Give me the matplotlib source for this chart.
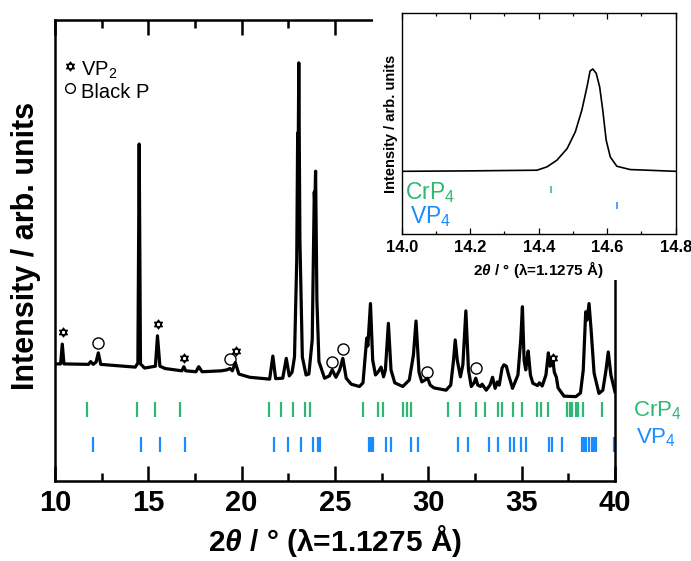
import matplotlib
matplotlib.use("Agg")
import matplotlib.pyplot as plt
from matplotlib.patches import Rectangle
from matplotlib.path import Path
from matplotlib.ticker import MultipleLocator, FormatStrFormatter

plt.rcParams['font.family'] = ['Liberation Sans', 'DejaVu Sans']
plt.rcParams['mathtext.fontset'] = 'custom'
plt.rcParams['mathtext.rm'] = 'Liberation Sans'
plt.rcParams['mathtext.it'] = 'Liberation Sans:italic:bold'
plt.rcParams['mathtext.bf'] = 'Liberation Sans:bold'

# ---- measured powder pattern (2theta in degrees, intensity in arb. units) ----
two_theta = [10.00, 10.30, 10.39, 10.48, 11.80, 11.91, 12.05, 12.20, 12.32, 12.45,
             14.30, 14.44, 14.51, 14.58, 14.80, 15.38, 15.49, 15.62, 15.90, 16.80,
             16.90, 17.00, 17.55, 17.70, 17.88, 18.90, 19.20, 19.37, 19.50, 19.66,
             19.85, 20.43, 21.50, 21.67, 21.82, 22.20, 22.39, 22.55, 22.70, 22.83,
             22.95, 23.00, 23.03, 23.06, 23.12, 23.25, 23.45, 23.60, 23.78, 23.89,
             23.92, 23.96, 24.03, 24.14, 24.44, 24.70, 24.85, 25.05, 25.25, 25.42,
             25.60, 25.87, 26.31, 26.50, 26.70, 26.76, 26.90, 27.02, 27.17, 27.30,
             27.47, 27.60, 27.70, 27.86, 28.00, 28.20, 28.63, 28.98, 29.20, 29.34,
             29.50, 29.65, 29.82, 29.96, 30.10, 30.30, 30.95, 31.20, 31.35, 31.44,
             31.55, 31.72, 31.85, 32.01, 32.15, 32.30, 32.45, 32.54, 32.65, 32.80,
             32.88, 33.10, 33.30, 33.44, 33.58, 33.70, 33.80, 33.95, 34.05, 34.18,
             34.30, 34.51, 34.65, 34.80, 34.95, 35.04, 35.13, 35.22, 35.28, 35.35,
             35.47, 35.60, 35.85, 35.95, 36.10, 36.30, 36.43, 36.52, 36.60, 36.68,
             36.75, 36.86, 36.95, 37.27, 37.90, 38.15, 38.30, 38.43, 38.50, 38.61,
             38.72, 38.88, 39.14, 39.35, 39.52, 39.64, 39.78, 40.00]
intensity = [25.4, 25.4, 29.7, 25.4, 25.3, 25.9, 25.3, 25.8, 27.8, 25.3,
             24.7, 25.6, 73.1, 25.4, 24.5, 24.9, 31.5, 24.9, 24.4, 23.9,
             24.8, 23.9, 23.7, 24.8, 23.7, 23.9, 24.1, 24.4, 23.9, 25.7,
             23.2, 22.5, 22.1, 27.1, 22.2, 22.3, 26.6, 22.8, 23.6, 26.9,
             47.9, 75.5, 71.8, 90.7, 52.3, 26.9, 23.0, 23.2, 30.6, 62.7,
             59.9, 67.2, 39.3, 25.9, 22.3, 22.8, 24.1, 22.5, 24.1, 26.6,
             22.3, 21.0, 20.5, 21.3, 31.0, 29.3, 38.5, 26.2, 23.0, 23.6,
             24.7, 22.6, 24.1, 34.2, 24.1, 21.3, 20.5, 21.9, 27.3, 34.7,
             23.6, 21.5, 21.9, 22.3, 20.8, 20.2, 19.7, 20.8, 26.2, 30.6,
             26.2, 22.6, 25.2, 36.9, 24.1, 20.5, 21.3, 22.3, 20.8, 20.5,
             21.0, 19.7, 20.8, 22.5, 20.1, 21.5, 20.8, 24.5, 25.2, 24.9,
             23.0, 20.1, 21.5, 23.0, 30.6, 37.8, 26.2, 24.1, 26.2, 28.2,
             23.0, 21.2, 20.7, 21.3, 20.6, 23.0, 27.8, 24.9, 25.2, 25.9,
             23.6, 22.5, 20.2, 18.4, 18.3, 19.1, 24.1, 36.7, 34.9, 38.5,
             32.8, 23.4, 19.0, 19.7, 24.1, 28.0, 23.0, 19.3]

# impurity peaks
vp2_pos = [10.45, 15.52, 16.92, 19.72, 36.68]
vp2_height = [32.3, 34.0, 26.6, 28.2, 26.6]
blackp_pos = [12.32, 19.35, 24.82, 25.45, 29.95, 32.56]
blackp_height = [29.9, 26.5, 25.9, 28.6, 23.6, 24.6]

# calculated reflection positions
crp4_refl = [11.73, 14.40, 15.35, 16.67, 21.44, 22.09, 22.73, 23.37, 23.64,
             26.49, 27.29, 27.56, 28.63, 28.84, 29.07, 31.03, 31.70, 32.58,
             33.05, 33.71, 33.94, 34.56, 35.01, 35.81, 36.02, 36.42, 37.45,
             37.58, 37.72, 37.90, 38.04, 38.29, 39.29]
vp4_refl = [12.02, 14.60, 15.63, 16.99, 21.73, 22.48, 23.19, 23.83, 24.08, 24.19,
            26.81, 26.88, 26.95, 27.02, 27.73, 28.00, 29.07, 29.43, 31.57, 32.10,
            33.26, 33.71, 34.37, 34.60, 34.96, 35.22, 36.47, 36.64, 37.15, 38.22,
            38.34, 38.47, 38.61, 38.76, 38.88, 39.00, 39.95]

# zoomed region around 14.5 deg
inset_theta = [14.000, 14.200, 14.395, 14.424, 14.453, 14.483, 14.507, 14.526,
               14.541, 14.550, 14.558, 14.568, 14.578, 14.587, 14.597, 14.609,
               14.628, 14.667, 14.800]
inset_int = [28.5, 28.7, 29.0, 30.5, 33.5, 38.8, 46.4, 56.2,
             66.7, 73.9, 74.8, 72.8, 66.7, 56.2, 42.6, 35.0,
             30.8, 29.3, 28.5]
inset_crp4 = [14.437]
inset_vp4 = [14.628]

green = '#2fb874'
blue = '#1a8cff'

# six-pointed star outline made of two triangles
star = Path([(0, 1), (-0.866, -0.5), (0.866, -0.5), (0, 1),
             (0, -1), (-0.866, 0.5), (0.866, 0.5), (0, -1)],
            [Path.MOVETO, Path.LINETO, Path.LINETO, Path.CLOSEPOLY,
             Path.MOVETO, Path.LINETO, Path.LINETO, Path.CLOSEPOLY])

fig = plt.figure(figsize=(6.91, 5.61), dpi=100)
ax = fig.add_axes([55/691, 1-481/561, 560/691, 461/561])

ax.plot(two_theta, intensity, color='black', lw=2.3, solid_joinstyle='round', zorder=3)

ax.plot(vp2_pos, vp2_height, ls='none', marker=star, ms=6.5, mfc='none', mec='black', mew=0.9)
ax.plot(blackp_pos, blackp_height, ls='none', marker='o', ms=8, mfc='none', mec='black', mew=1.0)

# reflection ticks
ax.vlines(crp4_refl, 13.8, 17.2, color=green, lw=1.6)
ax.vlines(vp4_refl, 6.2, 9.6, color=blue, lw=1.6)

ax.set_xlim(10, 40)
ax.set_ylim(0, 100)
ax.xaxis.set_major_locator(MultipleLocator(5))
ax.xaxis.set_minor_locator(MultipleLocator(2.5))
ax.tick_params(axis='x', which='both', direction='in', top=True, bottom=True, width=1.8, pad=6)
ax.tick_params(axis='x', which='major', length=11, labelsize=21)
ax.tick_params(axis='x', which='minor', length=6)
ax.tick_params(axis='y', left=False, right=False, labelleft=False)
for lab in ax.get_xticklabels():
    lab.set_fontweight('bold')
for sp in ax.spines.values():
    sp.set_linewidth(1.8)

ax.set_xlabel(r'2$\theta$ / ° (λ=1.1275 Å)', fontsize=21.5, fontweight='bold', labelpad=4)
fig.text(26/691, 1-246/561, 'Intensity / arb. units', rotation=90, ha='center', va='center',
         fontsize=22, fontweight='bold')

# symbol key
tr = ax.transAxes
ax.plot([0.0268], [0.900], transform=tr, marker=star, ms=6.5, mfc='none', mec='black', mew=0.9, clip_on=False)
ax.plot([0.0268], [0.852], transform=tr, marker='o', ms=7, mfc='none', mec='black', mew=1.0, clip_on=False)
ax.text(0.047, (481-76)/461, r'VP$_2$', transform=tr, fontsize=14.5, va='baseline', ha='left')
ax.text(0.047, (481-98.3)/461, 'Black P', transform=tr, fontsize=14.5, va='baseline', ha='left')

# phase labels
fig.text(633/691, 1-416/561, r'CrP$_4$', color=green, fontsize=16, va='baseline', ha='left')
fig.text(636/691, 1-443/561, r'VP$_4$', color=blue, fontsize=16, va='baseline', ha='left')

# white backing behind the inset
fig.add_artist(Rectangle((373/691, 1-280/561), 1-373/691, 280/561, transform=fig.transFigure,
                         facecolor='white', edgecolor='none', zorder=1))

# inset
ins = fig.add_axes([401.7/691, 1-234.3/561, 274/691, 221/561], zorder=2)
ins.plot(inset_theta, inset_int, color='black', lw=1.2)
ins.vlines(inset_crp4, 18.6, 21.7, color=green, lw=1.1)
ins.vlines(inset_vp4, 11.6, 14.6, color=blue, lw=1.1)
ins.set_xlim(14.0, 14.8)
ins.set_ylim(0, 100)
ins.xaxis.set_major_locator(MultipleLocator(0.2))
ins.xaxis.set_minor_locator(MultipleLocator(0.1))
ins.xaxis.set_major_formatter(FormatStrFormatter('%.1f'))
ins.tick_params(axis='x', which='both', direction='in', top=True, bottom=True, width=0.9, pad=4)
ins.tick_params(axis='x', which='major', length=4.5, labelsize=12)
ins.tick_params(axis='x', which='minor', length=2.5)
ins.tick_params(axis='y', left=False, right=False, labelleft=False)
for lab in ins.get_xticklabels():
    lab.set_fontweight('bold')
for sp in ins.spines.values():
    sp.set_linewidth(1.0)
ins.set_xlabel(r'2$\theta$ / ° (λ=1.1275 Å)', fontsize=11, fontweight='bold', labelpad=3)
ins.set_ylabel('Intensity / arb. units', fontsize=10.5, fontweight='bold', labelpad=3)
ins.text(0.012, (234-199)/221, r'CrP$_4$', transform=ins.transAxes, color=green, fontsize=16.5,
         va='baseline', ha='left')
ins.text(0.030, (234-223)/221, r'VP$_4$', transform=ins.transAxes, color=blue, fontsize=16.5,
         va='baseline', ha='left')

fig.savefig('out.png', dpi=100)
